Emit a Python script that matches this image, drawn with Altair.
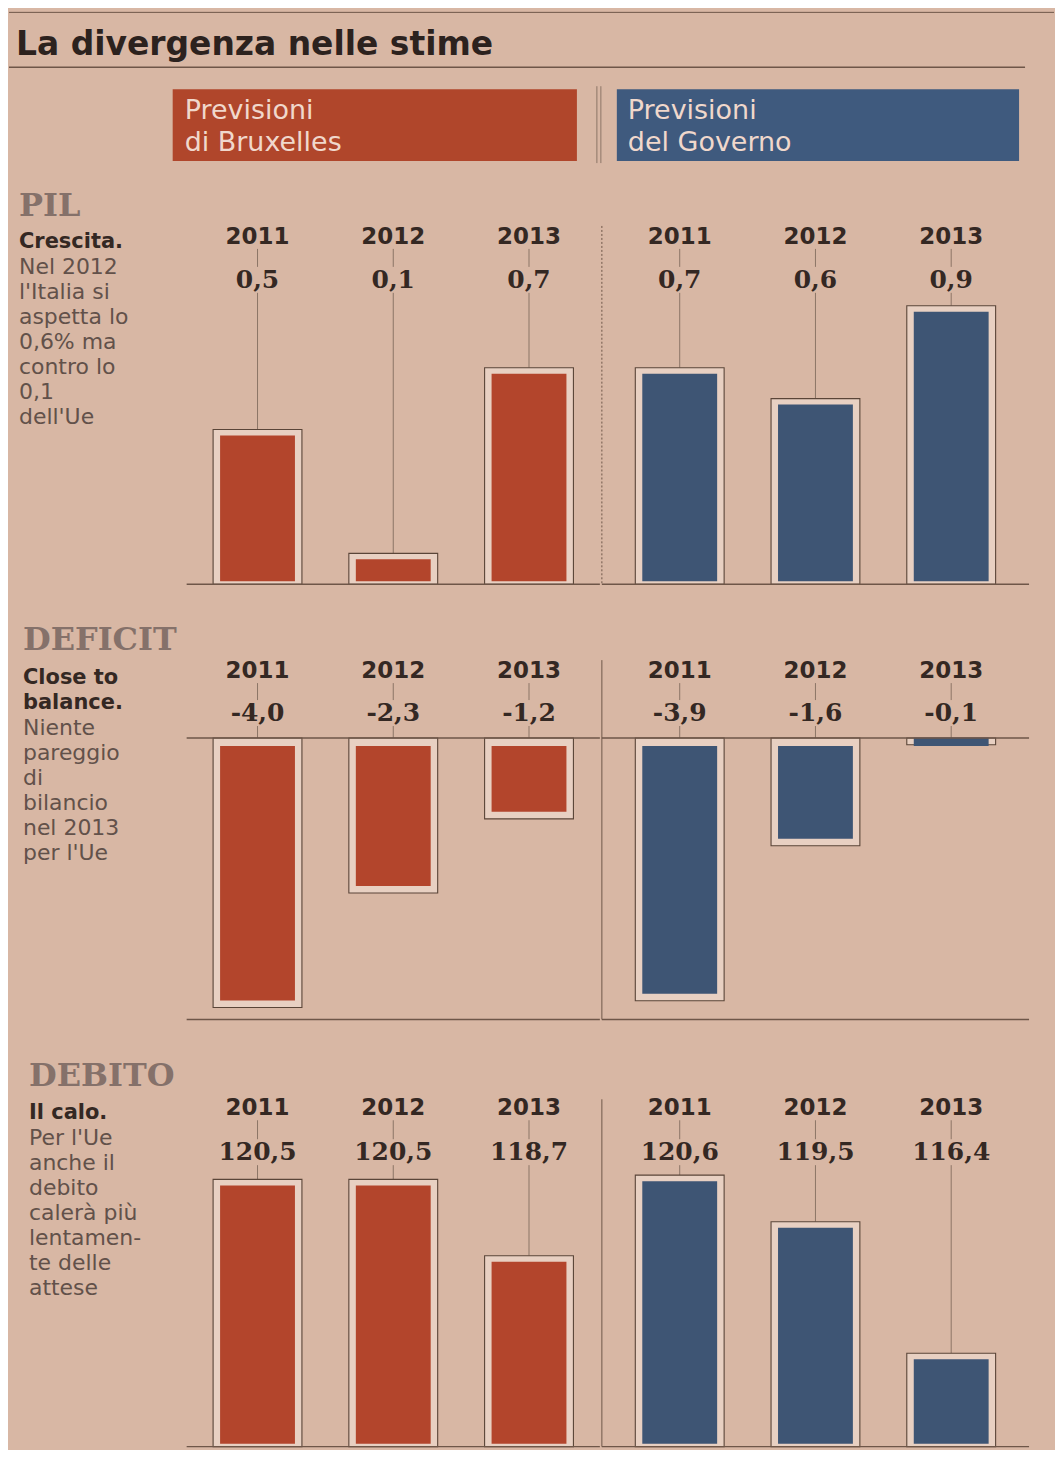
import altair as alt
import pandas as pd

# ---------------- data ----------------
TITLE = "La divergenza nelle stime"
LEGEND_BRUX = ["Previsioni", "di Bruxelles"]
LEGEND_GOV = ["Previsioni", "del Governo"]
YEARS = ["2011", "2012", "2013"]

PIL_BRUX = [0.5, 0.1, 0.7]
PIL_GOV = [0.7, 0.6, 0.9]
DEF_BRUX = [-4.0, -2.3, -1.2]
DEF_GOV = [-3.9, -1.6, -0.1]
DEB_BRUX = [120.5, 120.5, 118.7]
DEB_GOV = [120.6, 119.5, 116.4]

PIL_HEAD = "PIL"
PIL_BOLD = ["Crescita."]
PIL_NOTE = ["Nel 2012", "l'Italia si", "aspetta lo", "0,6% ma", "contro lo", "0,1", "dell'Ue"]
DEF_HEAD = "DEFICIT"
DEF_BOLD = ["Close to", "balance."]
DEF_NOTE = ["Niente", "pareggio", "di", "bilancio", "nel 2013", "per l'Ue"]
DEB_HEAD = "DEBITO"
DEB_BOLD = ["Il calo."]
DEB_NOTE = ["Per l'Ue", "anche il", "debito", "calerà più", "lentamen-", "te delle", "attese"]

# ---------------- style ----------------
BG = "#d8b7a4"
RED = "#b3452c"
BLUE = "#3e5574"
RED_LEG = "#b0462b"
BLUE_LEG = "#3f5a7e"
LEG_TXT = "#f0d8cc"
HALO = "#e8d0c2"
FRAME = "#5a4538"
LINE = "#6e5648"
LEAD = "#8c7466"
TXT = "#342823"
NOTE_TXT = "#62514a"
HEAD_TXT = "#85716a"

SIDE_W = 177
LEFT_W, LEFT_PO = 414, 0.022
RIGHT_W, RIGHT_PO = 428, 0.0735
HEADER_W, HEADER_H = 1047, 175


def fmt(v):
    return f"{v:.1f}".replace(".", ",")


def side_panel(head, bold, note, height, x0, head_y, first_y):
    lines = bold + note
    df = pd.DataFrame({
        "i": list(range(len(lines))),
        "t": lines,
        "w": ["b"] * len(bold) + ["n"] * len(note),
    })
    ysc = alt.Scale(domain=[0, len(lines) - 1],
                    range=[first_y, first_y + 25 * (len(lines) - 1)])
    base = alt.Chart(df).encode(
        x=alt.value(x0),
        y=alt.Y("i:Q", scale=ysc, axis=None),
        text="t:N",
    )
    bold_l = base.transform_filter(alt.datum.w == "b").mark_text(
        font="DejaVu Sans", fontWeight="bold", fontSize=21, color=TXT,
        align="left", baseline="middle")
    note_l = base.transform_filter(alt.datum.w == "n").mark_text(
        font="DejaVu Sans", fontSize=22, color=NOTE_TXT,
        align="left", baseline="middle")
    head_l = alt.Chart(pd.DataFrame({"t": [head]})).mark_text(
        font="DejaVu Serif", fontWeight="bold", fontSize=32, color=HEAD_TXT,
        align="left", baseline="middle").encode(
        x=alt.value(x0), y=alt.value(head_y), text="t:N")
    return alt.layer(head_l, bold_l, note_l).properties(width=SIDE_W, height=height)


def bar_panel(values, color, width, po, domain, rng, base, neg, year_y, val_y,
              height, div=None, div_dash=None, bottom=None):
    df = pd.DataFrame({"year": YEARS, "v": values, "lab": [fmt(v) for v in values],
                       "b": [base] * len(values)})
    x = alt.X("year:N", scale=alt.Scale(domain=YEARS, paddingInner=0, paddingOuter=po),
              axis=None)
    ysc = alt.Scale(domain=domain, range=rng, zero=False, nice=False)
    y = alt.Y("v:Q", scale=ysc, axis=None)
    ch = alt.Chart(df).encode(x=x)

    frame = ch.mark_bar(size=89, fill=HALO, stroke=FRAME, strokeWidth=1.1).encode(
        y=y, y2="b:Q")
    if neg:
        inner = ch.mark_bar(size=75, color=color, yOffset=-7, y2Offset=8)
    else:
        inner = ch.mark_bar(size=75, color=color, yOffset=6, y2Offset=-3)
    inner = inner.encode(y=y, y2="b:Q")

    lead1 = ch.mark_rule(color=LEAD, strokeWidth=1).encode(
        y=alt.value(year_y + 12), y2=alt.value(val_y - 13))
    if neg:
        lead2 = ch.mark_rule(color=LEAD, strokeWidth=1).encode(
            y=alt.Y("b:Q", scale=ysc, axis=None), y2=alt.value(val_y + 13))
    else:
        lead2 = ch.mark_rule(color=LEAD, strokeWidth=1).encode(
            y=y, y2=alt.value(val_y + 13))

    years_t = ch.mark_text(font="DejaVu Sans", fontWeight="bold", fontSize=23,
                           color=TXT, baseline="middle").encode(
        y=alt.value(year_y), text="year:N")
    vals_t = ch.mark_text(font="DejaVu Serif", fontWeight="bold", fontSize=25,
                          color=TXT, baseline="middle").encode(
        y=alt.value(val_y), text="lab:N")

    zdf = pd.DataFrame({"z": [base]})
    zero_rule = alt.Chart(zdf).mark_rule(color=LINE, strokeWidth=1.4).encode(
        x=alt.value(0), x2=alt.value(width), y=alt.Y("z:Q", scale=ysc, axis=None))

    layers = [lead1, lead2, frame, inner, zero_rule, years_t, vals_t]
    one = alt.Chart(pd.DataFrame({"k": [0]}))
    if bottom is not None:
        layers.append(one.mark_rule(color=LINE, strokeWidth=1.4).encode(
            x=alt.value(0), x2=alt.value(width), y=alt.value(bottom)))
    if div is not None:
        kw = {"strokeDash": div_dash} if div_dash else {}
        layers.append(one.mark_rule(color=LINE, strokeWidth=1, **kw).encode(
            x=alt.value(0), y=alt.value(div[0]), y2=alt.value(div[1])))
    return alt.layer(*layers).properties(width=width, height=height)


def row(side, left, right):
    return alt.hconcat(side, left, right, spacing=0)


# ---------------- header ----------------
one = alt.Chart(pd.DataFrame({"k": [0]}))


def htext(txt, x, y, size, weight="normal", color=LEG_TXT):
    return one.mark_text(text=txt, font="DejaVu Sans", fontWeight=weight, fontSize=size,
                         color=color, align="left", baseline="alphabetic").encode(
        x=alt.value(x), y=alt.value(y))


header = alt.layer(
    one.mark_rule(color=LINE, strokeWidth=1).encode(
        x=alt.value(0), x2=alt.value(HEADER_W), y=alt.value(3)),
    htext(TITLE, 7, 46, 33, "bold", "#2c221e"),
    one.mark_rule(color=LINE, strokeWidth=1.5).encode(
        x=alt.value(0), x2=alt.value(1018), y=alt.value(58)),
    one.mark_rect(color=RED_LEG).encode(
        x=alt.value(164), x2=alt.value(569), y=alt.value(80), y2=alt.value(152)),
    one.mark_rect(color=BLUE_LEG).encode(
        x=alt.value(609), x2=alt.value(1012), y=alt.value(80), y2=alt.value(152)),
    one.mark_rule(color=LEAD, strokeWidth=1).encode(
        x=alt.value(589), y=alt.value(77), y2=alt.value(154)),
    one.mark_rule(color=LEAD, strokeWidth=1).encode(
        x=alt.value(593), y=alt.value(77), y2=alt.value(154)),
    htext(LEGEND_BRUX[0], 176, 110, 27),
    htext(LEGEND_BRUX[1], 176, 142, 27),
    htext(LEGEND_GOV[0], 620, 110, 27),
    htext(LEGEND_GOV[1], 620, 142, 27),
).properties(width=HEADER_W, height=HEADER_H)

# ---------------- sections ----------------
PIL_H, DEF_H, DEB_H = 432, 437, 398

pil = row(
    side_panel(PIL_HEAD, PIL_BOLD, PIL_NOTE, PIL_H, 10, 22, 58),
    bar_panel(PIL_BRUX, RED, LEFT_W, LEFT_PO, [0, 0.9], [401, 122], 0, False, 53, 96, PIL_H),
    bar_panel(PIL_GOV, BLUE, RIGHT_W, RIGHT_PO, [0, 0.9], [401, 122], 0, False, 53, 96, PIL_H,
              div=(42, 401), div_dash=[2, 2]),
)
deficit = row(
    side_panel(DEF_HEAD, DEF_BOLD, DEF_NOTE, DEF_H, 14, 25, 63),
    bar_panel(DEF_BRUX, RED, LEFT_W, LEFT_PO, [-4, 0], [393, 123], 0, True, 56, 98, DEF_H,
              bottom=405),
    bar_panel(DEF_GOV, BLUE, RIGHT_W, RIGHT_PO, [-4, 0], [393, 123], 0, True, 56, 98, DEF_H,
              div=(45, 405), bottom=405),
)
debito = row(
    side_panel(DEB_HEAD, DEB_BOLD, DEB_NOTE, DEB_H, 20, 25, 62),
    bar_panel(DEB_BRUX, RED, LEFT_W, LEFT_PO, [114.2, 120.6], [396, 124], 114.2, False,
              57, 101, DEB_H),
    bar_panel(DEB_GOV, BLUE, RIGHT_W, RIGHT_PO, [114.2, 120.6], [396, 124], 114.2, False,
              57, 101, DEB_H, div=(48, 396)),
)

chart = alt.vconcat(header, pil, deficit, debito, spacing=0).properties(
    padding=0, background=BG
).configure_view(stroke=None)

chart.save("out.html", embed_options={"renderer": "svg", "actions": False})
